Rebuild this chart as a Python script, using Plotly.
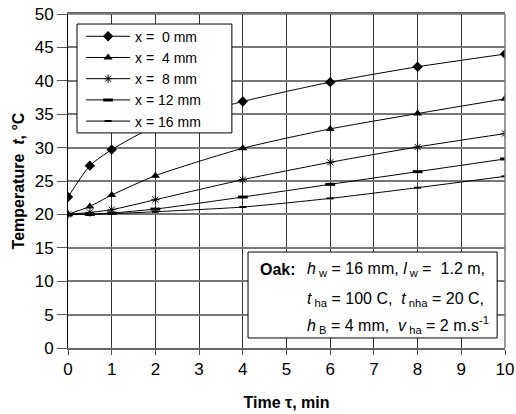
import plotly.graph_objects as go

time_min = [0, 0.5, 1, 2, 4, 6, 8, 10]
t_x0 = [22.6, 27.3, 29.7, 33.2, 36.9, 39.8, 42.1, 44.0]
t_x4 = [20.0, 21.2, 22.9, 25.8, 29.9, 32.8, 35.1, 37.3]
t_x8 = [20.0, 20.3, 20.7, 22.2, 25.2, 27.8, 30.1, 32.1]
t_x12 = [20.0, 20.0, 20.2, 20.8, 22.6, 24.5, 26.4, 28.3]
t_x16 = [20.0, 20.0, 20.1, 20.4, 21.1, 22.4, 24.0, 25.7]
names = ["x =  0 mm", "x =  4 mm", "x =  8 mm", "x = 12 mm", "x = 16 mm"]
x_ticks = list(range(0, 11))
y_ticks = list(range(0, 51, 5))

series = [t_x0, t_x4, t_x8, t_x12, t_x16]
markers = [
    dict(symbol="diamond", size=8, color="black"),
    dict(symbol="triangle-up", size=8, color="black"),
    dict(symbol="asterisk-open", size=7, color="black", line=dict(color="black", width=1)),
    dict(symbol="line-ew-open", size=7, color="black", line=dict(color="black", width=3)),
    dict(symbol="line-ew-open", size=5, color="black", line=dict(color="black", width=2)),
]

fig = go.Figure()
for name, ys, mk in zip(names, series, markers):
    fig.add_trace(go.Scatter(
        x=time_min, y=ys, name=name, mode="lines+markers",
        line=dict(color="black", width=1, shape="spline", smoothing=0.6),
        marker=mk,
    ))

font = "Arial, Liberation Sans, sans-serif"
fig.update_layout(
    width=516, height=414,
    margin=dict(l=68, r=11, t=14, b=66),
    paper_bgcolor="white", plot_bgcolor="white",
    font=dict(family=font, size=14, color="black"),
    showlegend=True,
    legend=dict(
        x=0.03, y=0.98, xanchor="left", yanchor="top",
        bgcolor="rgba(0,0,0,0)", borderwidth=0,
        font=dict(size=14), tracegroupgap=0,
        itemwidth=44,
    ),
    xaxis=dict(
        range=[0, 10], tickvals=x_ticks, ticks="outside", ticklen=5,
        tickcolor="#555", showgrid=True, gridcolor="#333", gridwidth=1,
        showline=True, linecolor="#666", linewidth=2, mirror=True,
        zeroline=False, tickfont=dict(size=17), automargin=False,
        title=dict(text="<b>Time \u03c4, min</b>", font=dict(size=16), standoff=18),
    ),
    yaxis=dict(
        range=[0, 50], tickvals=y_ticks, ticks="outside", ticklen=10,
        tickcolor="#555", showgrid=True, gridcolor="#777", gridwidth=1.5,
        showline=True, linecolor="black", linewidth=1, mirror=False,
        zeroline=False, tickfont=dict(size=17), automargin=False,
        title=dict(text="<b>Temperature  <i>t</i>, \u00b0C</b>", font=dict(size=16), standoff=6),
    ),
)
# top and right frame
fig.add_shape(type="line", xref="paper", yref="paper", x0=0, x1=1, y0=1, y1=1,
              line=dict(color="#777", width=1.5))
fig.add_shape(type="line", xref="paper", yref="paper", x0=1, x1=1, y0=0, y1=1,
              line=dict(color="#777", width=1.5))
# legend box
fig.add_shape(type="rect", xref="paper", yref="paper", x0=0.0206, x1=0.375, y0=0.644, y1=0.970,
              line=dict(color="black", width=1), fillcolor="white", layer="above")

# info box
fig.add_shape(type="rect", xref="x", yref="y", x0=4.12, x1=9.82, y0=1.5, y1=14.37,
              line=dict(color="black", width=1), fillcolor="white", layer="above")
fig.add_annotation(x=4.35, y=11.7, xref="x", yref="y", xanchor="left", yanchor="middle",
                   text="<b>Oak:</b>", showarrow=False, font=dict(size=16))
lines = [
    (11.7, "<i>h</i><sub> w</sub> = 16 mm, <i>l</i><sub> w</sub> =  1.2 m,"),
    (7.3, "<i>t</i><sub> ha</sub> = 100 C,  <i>t</i><sub> nha</sub> = 20 C,"),
    (3.4, "<i>h</i><sub> B</sub> = 4 mm,  <i>v</i><sub> ha</sub> = 2 m.s<sup>-1</sup>"),
]
for yy, txt in lines:
    fig.add_annotation(x=5.42, y=yy, xref="x", yref="y", xanchor="left", yanchor="middle",
                       text=txt, showarrow=False, font=dict(size=16))

fig.write_html("out.html")
